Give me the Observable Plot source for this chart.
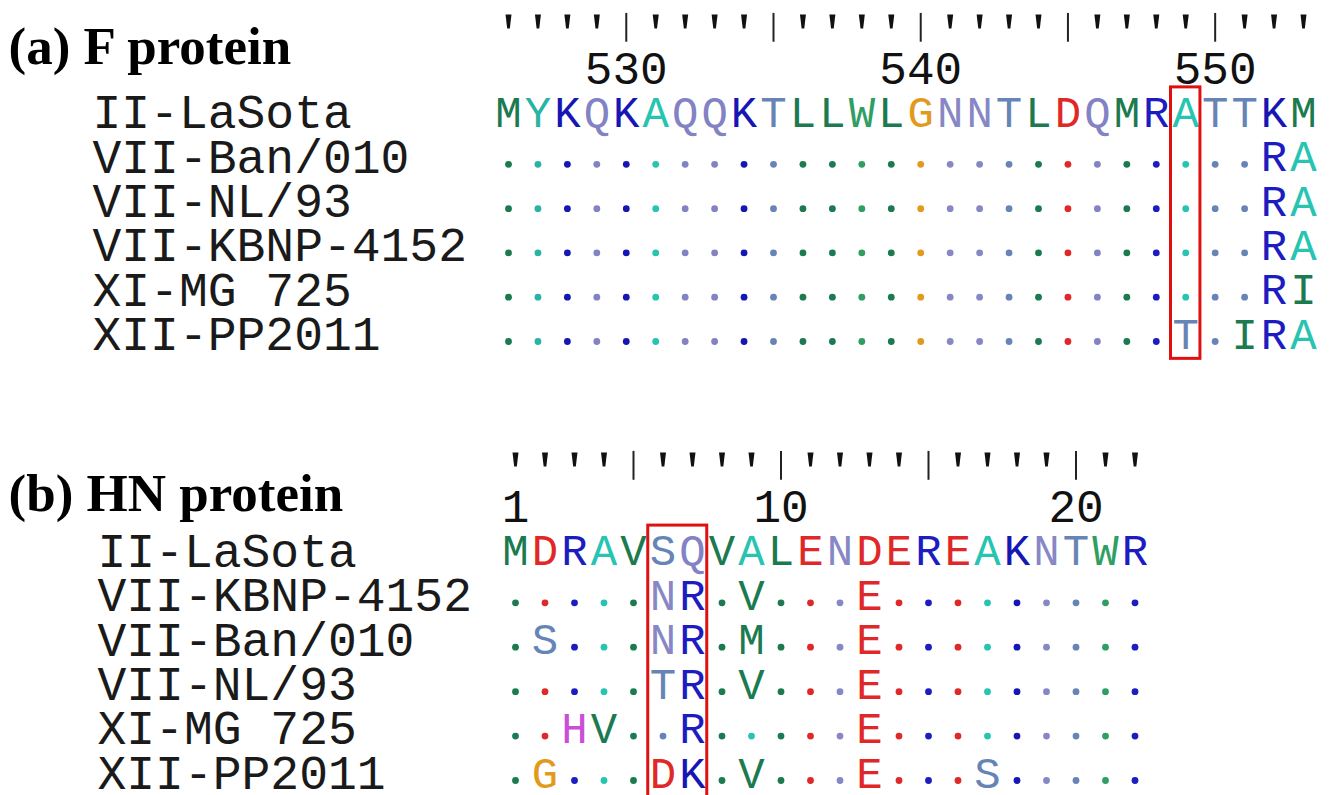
<!DOCTYPE html>
<html><head><meta charset="utf-8">
<script src="https://cdn.jsdelivr.net/npm/d3@7"></script>
<script src="https://cdn.jsdelivr.net/npm/@observablehq/plot@0.6"></script>
<style>
html,body{margin:0;padding:0;background:#fff}
#chart svg{display:block}
</style>
</head><body><div id="chart"></div>
<script>
// ---- Data: panel (a) F protein ----
const fTitle = "(a) F protein";
const fNames = ["II-LaSota", "VII-Ban/010", "VII-NL/93", "VII-KBNP-4152", "XI-MG 725", "XII-PP2011"];
const fStart = 526;
const fSeqs = [
  "MYKQKAQQKTLLWLGNNTLDQMRATTKM",
  "..........................RA",
  "..........................RA",
  "..........................RA",
  "..........................RI",
  ".......................T.IRA"
];
const fLabels = [530, 540, 550];
const fBox = [549, 549];

// ---- Data: panel (b) HN protein ----
const hnTitle = "(b) HN protein";
const hnNames = ["II-LaSota", "VII-KBNP-4152", "VII-Ban/010", "VII-NL/93", "XI-MG 725", "XII-PP2011"];
const hnStart = 1;
const hnSeqs = [
  "MDRAVSQVALENDEREAKNTWR",
  ".....NR.V...E.........",
  ".S...NR.M...E.........",
  ".....TR.V...E.........",
  "..HV..R.....E.........",
  ".G...DK.V...E...S....."
];
const hnLabels = [1, 10, 20];
const hnBox = [6, 7];

// residue colour scheme
const aaColors = {
  M: "#1b7a50", L: "#1b7a50", I: "#1b7a50", V: "#1b7a50", W: "#2f9e62",
  Y: "#2ab3a4", A: "#27c4b1",
  K: "#1616b4", R: "#1c1cc0",
  Q: "#8282c4", N: "#8787c6",
  T: "#6685b6", S: "#6685b6",
  G: "#e29a1c", D: "#e02828", E: "#e02828", H: "#c94fd8"
};

const mono = "Liberation Mono, DejaVu Sans Mono, monospace";
const serif = "Liberation Serif, DejaVu Serif, serif";

const wedge = {
  draw(ctx) {
    ctx.moveTo(-3, -10); ctx.lineTo(3, -10); ctx.lineTo(1.3, 4); ctx.lineTo(-1.3, 4); ctx.closePath();
  }
};

function panel({title, names, start, seqs, labels, box, height, xRange, yRange, nameX, titleY}) {
  const ref = seqs[0];
  const positions = d3.range(start, start + ref.length);
  const cells = [];
  seqs.forEach((s, r) => [...s].forEach((c, i) => cells.push({row: r + 2, pos: start + i, ch: c, refCh: ref[i]})));
  const letters = cells.filter(d => d.ch !== ".");
  const dots = cells.filter(d => d.ch === ".");
  const minor = positions.filter(p => p % 5 !== 0);
  const major = positions.filter(p => p % 5 === 0);
  const nameRows = names.map((n, i) => ({name: n, row: i + 2}));
  return Plot.plot({
    width: 1335, height,
    marginTop: 0, marginRight: 0, marginBottom: 0, marginLeft: 0,
    x: {domain: [start, start + ref.length - 1], range: xRange, axis: null},
    y: {domain: [0, names.length + 1], range: yRange, axis: null},
    color: {type: "identity"},
    marks: [
      Plot.text([title], {frameAnchor: "top-left", dx: 8, dy: titleY, lineAnchor: "bottom", textAnchor: "start",
        fontFamily: serif, fontWeight: "bold", fontSize: 53, fill: "#000"}),
      Plot.dot(minor, {x: d => d, y: 0, symbol: wedge, fill: "#111", stroke: null}),
      Plot.ruleX(major, {x: d => d, y1: -0.25, y2: 0.4, stroke: "#222", strokeWidth: 2}),
      Plot.text(labels, {x: d => d, y: 1, text: d => String(d), fontFamily: mono, fontSize: 46, fill: "#111"}),
      Plot.text(nameRows, {frameAnchor: "left", dx: nameX, y: "row", text: "name", textAnchor: "start",
        fontFamily: mono, fontSize: 48, fill: "#1a1a1a"}),
      Plot.dot(dots, {x: "pos", y: "row", r: 3.4, dy: 7, fill: d => aaColors[d.refCh], stroke: null}),
      Plot.text(letters, {x: "pos", y: "row", text: "ch", fill: d => aaColors[d.ch],
        fontFamily: mono, fontSize: 44}),
      Plot.rect([box], {x1: d => d[0] - 0.5, x2: d => d[1] + 0.5, y1: 1.42, y2: names.length + 1.55,
        fill: "none", stroke: "#e01010", strokeWidth: 3})
    ]
  });
}

const chart = document.getElementById("chart");
chart.append(panel({title: fTitle, names: fNames, start: fStart, seqs: fSeqs, labels: fLabels, box: fBox,
  height: 400, xRange: [508, 1303], yRange: [24, 334], nameX: 92, titleY: 63}));
chart.append(panel({title: hnTitle, names: hnNames, start: hnStart, seqs: hnSeqs, labels: hnLabels, box: hnBox,
  height: 395, xRange: [515, 1134.5], yRange: [62, 373], nameX: 97, titleY: 110}));
</script>
</body></html>
